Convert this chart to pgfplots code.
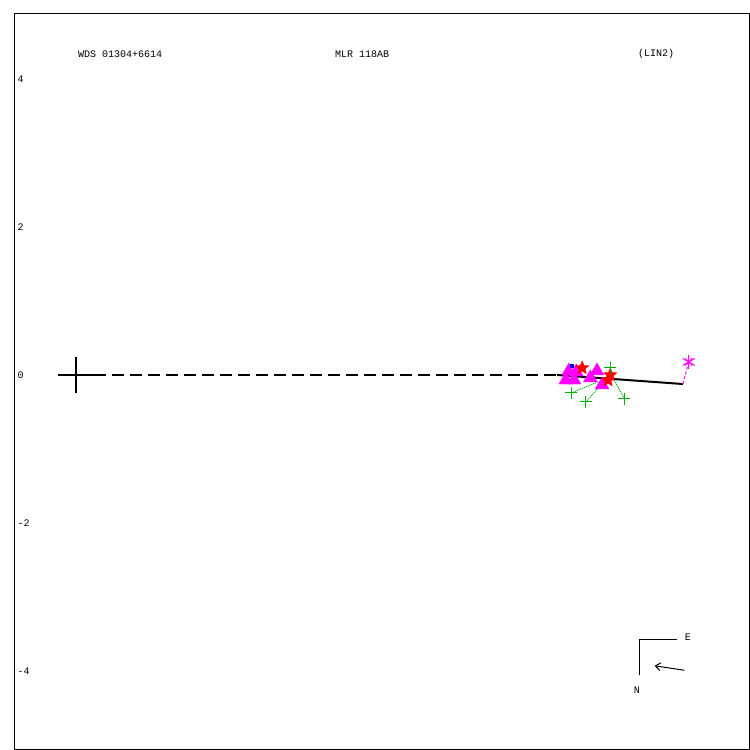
\documentclass[border=0pt]{standalone}
\usepackage{fontspec}
\setmainfont{Liberation Mono}
\usepackage{pgfplots}
\pgfplotsset{compat=1.18}
\usetikzlibrary{arrows.meta}
\definecolor{mag}{RGB}{255,0,255}
\definecolor{grn}{RGB}{0,175,0}
\pgfdeclareplotmark{fstar}{%
  \pgfpathmoveto{\pgfpointpolar{90}{\pgfplotmarksize}}%
  \pgfpathlineto{\pgfpointpolar{126}{0.45\pgfplotmarksize}}%
  \pgfpathlineto{\pgfpointpolar{162}{\pgfplotmarksize}}%
  \pgfpathlineto{\pgfpointpolar{198}{0.45\pgfplotmarksize}}%
  \pgfpathlineto{\pgfpointpolar{234}{\pgfplotmarksize}}%
  \pgfpathlineto{\pgfpointpolar{270}{0.45\pgfplotmarksize}}%
  \pgfpathlineto{\pgfpointpolar{306}{\pgfplotmarksize}}%
  \pgfpathlineto{\pgfpointpolar{342}{0.45\pgfplotmarksize}}%
  \pgfpathlineto{\pgfpointpolar{18}{\pgfplotmarksize}}%
  \pgfpathlineto{\pgfpointpolar{54}{0.45\pgfplotmarksize}}%
  \pgfpathclose
  \pgfusepathqfillstroke}
\begin{document}
\begin{tikzpicture}
\path[use as bounding box] (-14bp,-1bp) rectangle (736bp,749bp);
\begin{axis}[
    at={(0,0)}, anchor=south west,
    width=735bp, height=735bp, scale only axis,
    xmin=-0.8378, xmax=9.0946, ymin=-5.054, ymax=4.878,
    xtick=\empty, ytick={-4,-2,0,2,4}, major tick length=0,
    yticklabel style={anchor=west},
    tick label style={font=\fontsize{10bp}{12bp}\selectfont},
    /pgf/number format/assume math mode=true,
    axis line style={line width=1bp},
    clip=false
]
% dashed reference line and origin cross
\addplot[black, line width=2bp, dash pattern=on 12bp off 6bp] coordinates {(0,0) (6.54,0)};
\addplot[black, line width=2bp, only marks, mark=+, mark size=18bp] coordinates {(0,0)};
% residual lines
\addplot[grn, densely dotted, line width=1bp] coordinates {(6.69,-0.243) (7.05,-0.095)};
\addplot[grn, densely dotted, line width=1bp] coordinates {(6.89,-0.365) (7.11,-0.12)};
\addplot[grn, densely dotted, line width=1bp] coordinates {(7.41,-0.324) (7.26,-0.04)};
% measures
\addplot[mag, only marks, mark=triangle*, mark size=8bp] coordinates {
  (6.62,-0.068) (6.66,0.054) (6.76,0.04) (6.73,-0.068)
  (6.95,-0.04) (7.04,0.054) (7.11,-0.135)};
\addplot[red, only marks, mark=fstar, mark size=7bp] coordinates {
  (6.84,0.095) (7.22,0.0) (7.19,-0.07)};
\addplot[blue, only marks, mark=square*, mark size=1.5bp] coordinates {(6.70,0.12)};
% linear fit
\addplot[black, line width=2bp] coordinates {(6.50,0) (8.20,-0.122)};
\addplot[grn, only marks, mark=+, mark size=6bp, line width=1bp] coordinates {
  (7.22,0.095) (6.69,-0.243) (6.89,-0.365) (7.41,-0.324)};
% last point
\addplot[mag, densely dashed, line width=1bp] coordinates {(8.20,-0.122) (8.28,0.176)};
\addplot[mag, only marks, mark=asterisk, mark size=7bp, line width=1bp] coordinates {(8.28,0.176)};
\addplot[mag, only marks, mark=x, mark size=5bp, line width=1bp] coordinates {(8.28,0.176)};
% orientation
\addplot[black, line width=1bp] coordinates {(8.12,-3.57) (7.62,-3.57) (7.62,-4.05)};
\addplot[black, line width=1bp, -{Straight Barb[length=5bp,width=8bp]}] coordinates {(8.22,-3.99) (7.82,-3.93)};
\node[font=\fontsize{10bp}{12bp}\selectfont] at (axis cs:8.27,-3.55) {E};
\node[font=\fontsize{10bp}{12bp}\selectfont] at (axis cs:7.58,-4.26) {N};
% titles
\node[anchor=west, font=\fontsize{10bp}{12bp}\selectfont] at (axis cs:-0.02,4.338) {WDS 01304+6614};
\node[font=\fontsize{10bp}{12bp}\selectfont] at (axis cs:3.865,4.338) {MLR 118AB};
\node[font=\fontsize{10bp}{12bp}\selectfont] at (axis cs:7.84,4.338) {(LIN2)};
\end{axis}
\end{tikzpicture}
\end{document}
